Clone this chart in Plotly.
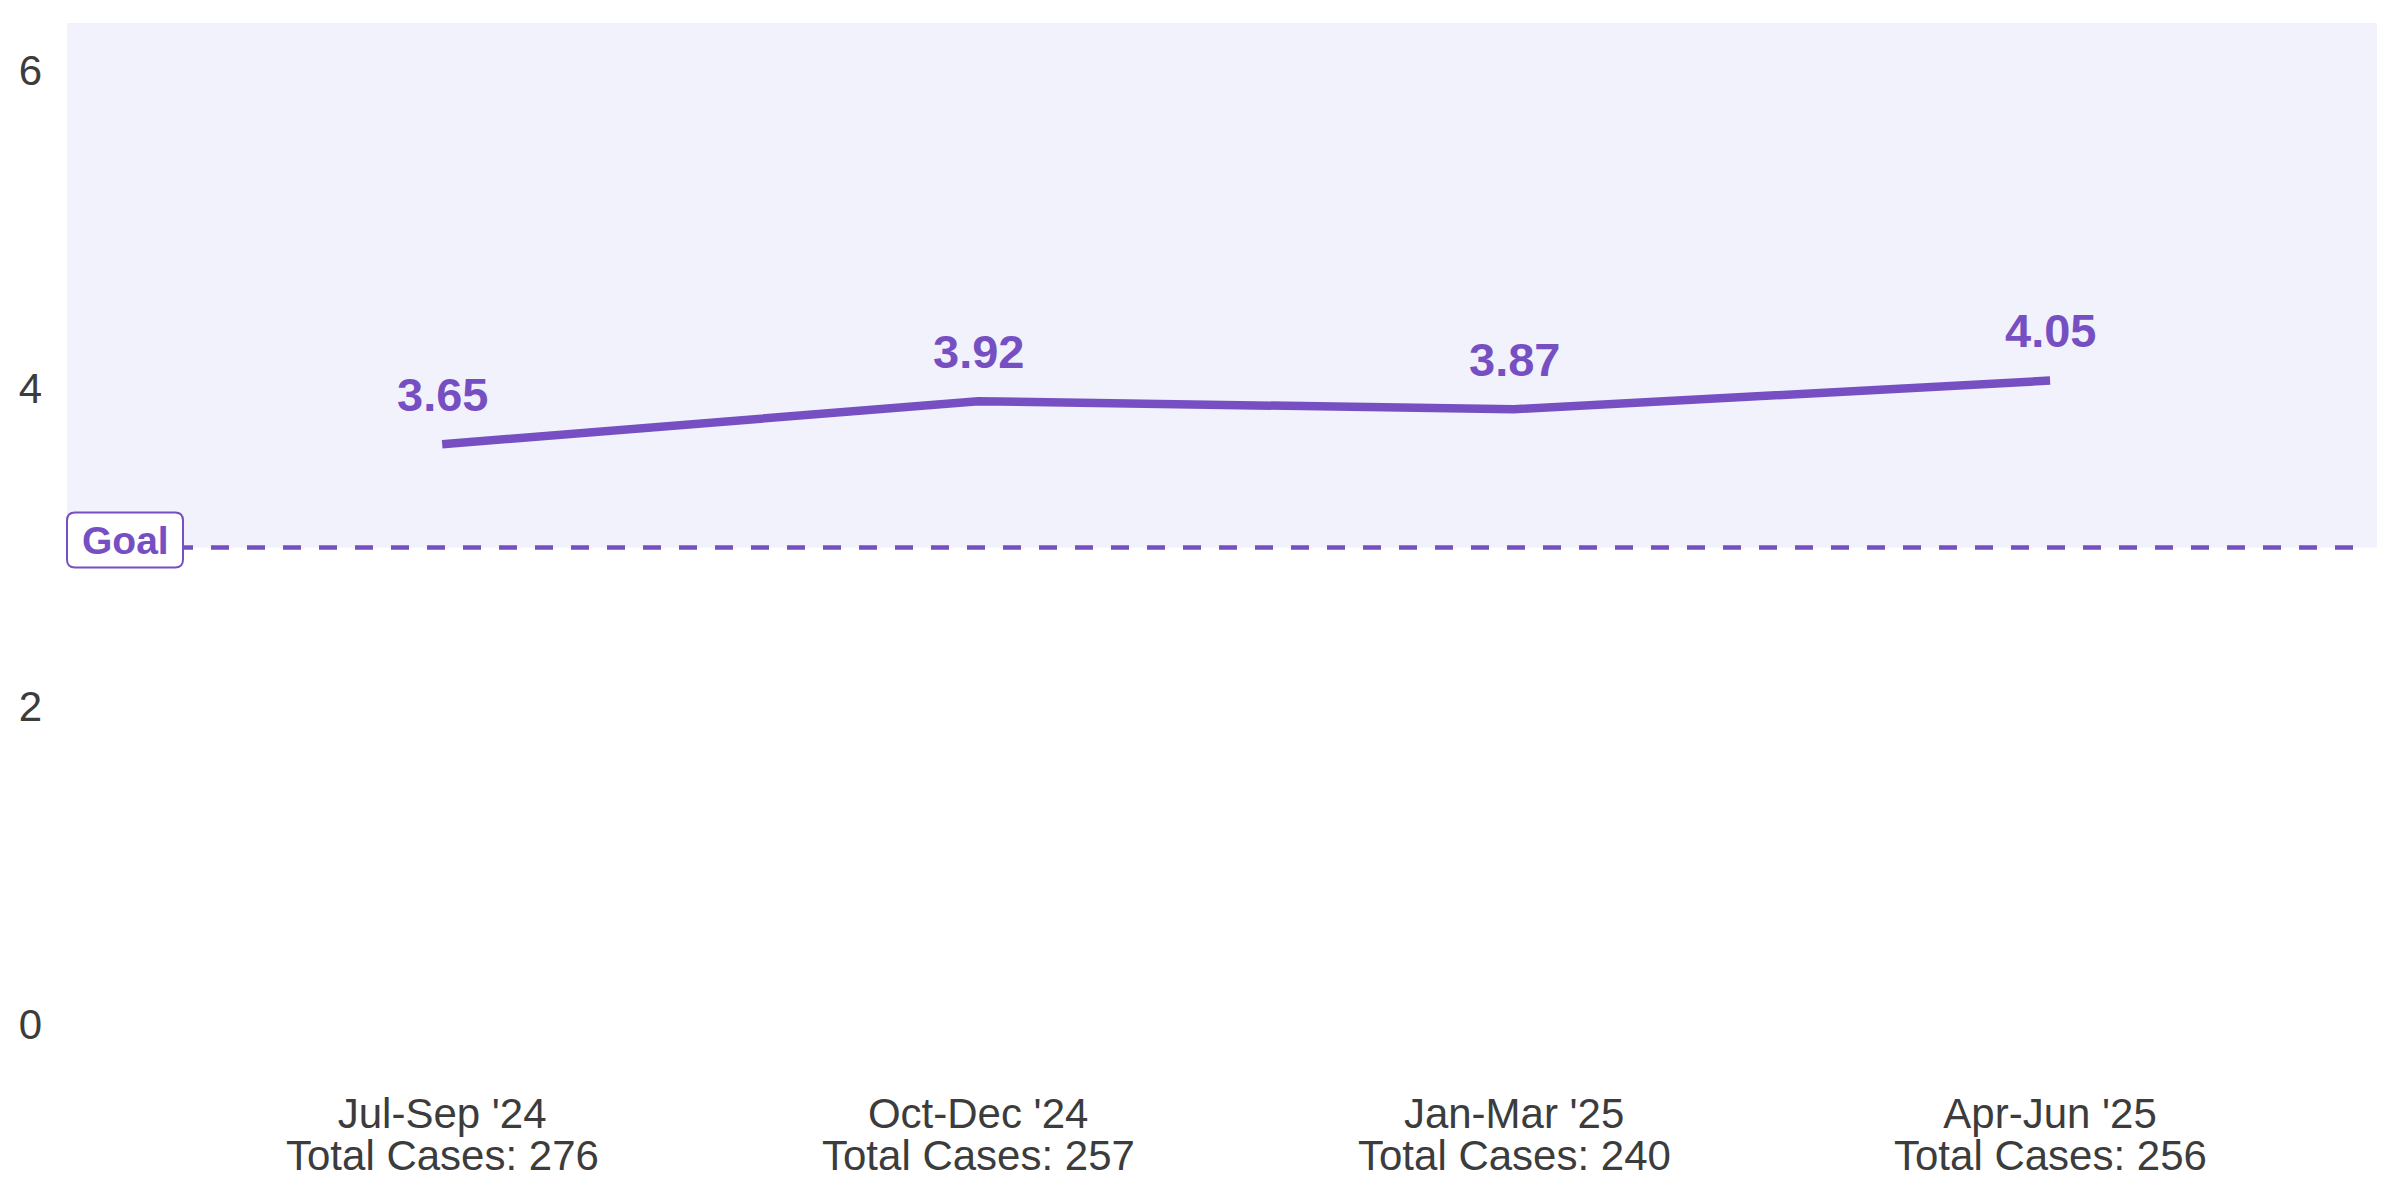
import plotly.graph_objects as go

quarters = ["Jul-Sep '24", "Oct-Dec '24", "Jan-Mar '25", "Apr-Jun '25"]
total_cases = [276, 257, 240, 256]
values = [3.65, 3.92, 3.87, 4.05]
goal = 3
y_ticks = [0, 2, 4, 6]

PURPLE = "#7650C2"
TEXT = "#3c3c3c"
SHADE = "#F2F2FC"
FONT = "Liberation Sans, Arial"

x_idx = list(range(len(quarters)))

fig = go.Figure()
fig.add_trace(go.Scatter(
    x=x_idx, y=values, mode="lines",
    line=dict(color=PURPLE, width=8.5),
    hoverinfo="skip", showlegend=False,
))

for xi, v in zip(x_idx, values):
    fig.add_annotation(
        x=xi, y=v, text=f"<b>{v:.2f}</b>", showarrow=False,
        yanchor="middle", yshift=50,
        font=dict(family=FONT, size=47, color=PURPLE),
    )

# second line of category labels (tight line spacing)
for xi, c in zip(x_idx, total_cases):
    fig.add_annotation(
        x=xi, xref="x", y=0, yref="paper", text=f"Total Cases: {c}", showarrow=False,
        yanchor="middle", yshift=-83,
        font=dict(family=FONT, size=42, color=TEXT),
    )

# shaded region above goal
fig.add_shape(type="rect", xref="paper", x0=0, x1=1, yref="y", y0=goal, y1=6.3,
              fillcolor=SHADE, line=dict(width=0), layer="below")
# goal line
fig.add_shape(type="line", xref="paper", x0=0, x1=0.995, yref="y", y0=goal, y1=goal,
              line=dict(color=PURPLE, width=4.5, dash="18px,18px"), layer="above")
# goal label box (rounded)
w, top, bot, r = 116, 35, -20, 8
path = (f"M {r},{bot} L {w-r},{bot} Q {w},{bot} {w},{bot+r} L {w},{top-r} "
        f"Q {w},{top} {w-r},{top} L {r},{top} Q 0,{top} 0,{top-r} L 0,{bot+r} Q 0,{bot} {r},{bot} Z")
fig.add_shape(type="path", xref="paper", yref="y", xsizemode="pixel", ysizemode="pixel",
              xanchor=0, yanchor=goal, path=path,
              fillcolor="white", line=dict(color=PURPLE, width=2), layer="above")
fig.add_annotation(xref="paper", yref="y", x=0, y=goal, xanchor="center", yanchor="middle",
                   xshift=58, yshift=7, text="<b>Goal</b>", showarrow=False,
                   font=dict(family=FONT, size=39, color=PURPLE))

fig.update_layout(
    width=2400, height=1200,
    margin=dict(l=59, r=31, t=15, b=136, autoexpand=False),
    plot_bgcolor="white", paper_bgcolor="white",
    font=dict(family=FONT, size=42, color=TEXT),
    xaxis=dict(range=[-0.7, 3.61], tickvals=x_idx, ticktext=quarters,
               showgrid=False, zeroline=False, showline=False, ticklabelstandoff=13,
               automargin=False),
    yaxis=dict(range=[-0.3, 6.3], tickvals=y_ticks, showgrid=False, zeroline=False,
               showline=False, ticklabelstandoff=24, automargin=False),
)

fig.write_html("out.html")
